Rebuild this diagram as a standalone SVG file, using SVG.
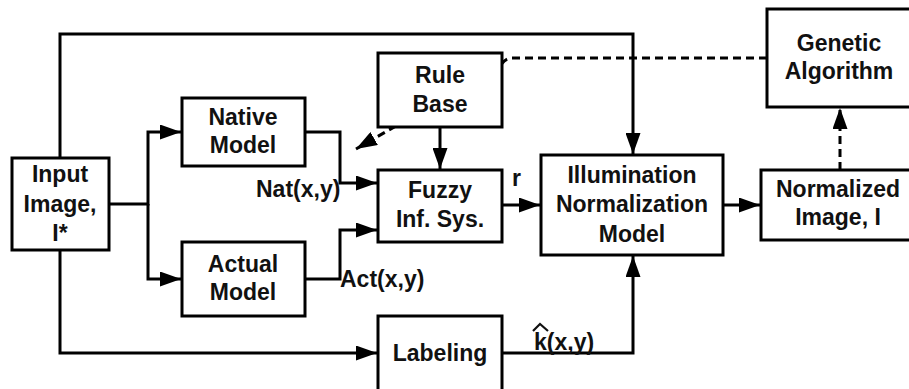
<svg xmlns="http://www.w3.org/2000/svg" width="909" height="389" viewBox="0 0 909 389">
<style>
.box{fill:#fff;stroke:#000;stroke-width:3}
.ln{fill:none;stroke:#000;stroke-width:3}
.dash{fill:none;stroke:#000;stroke-width:3;stroke-dasharray:8,5}
text{font-family:"Liberation Sans",Arial,sans-serif;font-weight:bold;font-size:23px;fill:#111}
.c{text-anchor:middle}
</style>
<defs>
<marker id="ah" markerUnits="userSpaceOnUse" markerWidth="21" markerHeight="15" refX="21" refY="7.5" orient="auto">
<path d="M0,0 L21,7.5 L0,15 z" fill="#000"/>
</marker>
</defs>
<rect width="909" height="389" fill="#fff"/>
<g id="connectors">
<path class="ln" d="M60,158 V34 H633 V154" marker-end="url(#ah)"/>
<path class="ln" d="M109,204 H148 V132 H181" marker-end="url(#ah)"/>
<path class="ln" d="M148,204 V279 H181" marker-end="url(#ah)"/>
<path class="ln" d="M305,132 H340 V183 H377" marker-end="url(#ah)"/>
<path class="ln" d="M305,279 H340 V230 H377" marker-end="url(#ah)"/>
<path class="ln" d="M440,127 V169" marker-end="url(#ah)"/>
<path class="ln" d="M502,205 H540" marker-end="url(#ah)"/>
<path class="ln" d="M723,205 H760" marker-end="url(#ah)"/>
<path class="ln" d="M60,250 V353 H377" marker-end="url(#ah)"/>
<path class="ln" d="M502,353 H633 V256" marker-end="url(#ah)"/>
<path class="dash" d="M840,170 V108" marker-end="url(#ah)"/>
<path class="dash" d="M767,58 H512 C506,58 503,62 500,66 L356,149" marker-end="url(#ah)"/>
<text x="256" y="197">Nat(x,y)</text>
<text x="340" y="287">Act(x,y)</text>
<text x="512" y="186">r</text>
<text x="534" y="350">k(x,y)</text>
<path d="M533,331 L540,324 L548,331" fill="none" stroke="#111" stroke-width="2.2"/>
</g>
<g id="input">
<rect class="box" x="12" y="158" width="97" height="92"/>
<text class="c" x="60" y="182">Input</text>
<text class="c" x="60" y="212">Image,</text>
<text class="c" x="60" y="241">I*</text>
</g>
<g id="native">
<rect class="box" x="182" y="98" width="123" height="68"/>
<text class="c" x="243" y="125">Native</text>
<text class="c" x="243" y="153">Model</text>
</g>
<g id="actual">
<rect class="box" x="182" y="242" width="123" height="74"/>
<text class="c" x="243" y="272">Actual</text>
<text class="c" x="243" y="300">Model</text>
</g>
<g id="rulebase">
<rect class="box" x="378" y="53" width="124" height="74"/>
<text class="c" x="440" y="83">Rule</text>
<text class="c" x="440" y="112">Base</text>
</g>
<g id="fuzzy">
<rect class="box" x="378" y="170" width="124" height="72"/>
<text class="c" x="440" y="198">Fuzzy</text>
<text class="c" x="440" y="227">Inf. Sys.</text>
</g>
<g id="labeling">
<rect class="box" x="378" y="316" width="124" height="76"/>
<text class="c" x="440" y="361">Labeling</text>
</g>
<g id="illumination">
<rect class="box" x="541" y="155" width="182" height="100"/>
<text class="c" x="632" y="183">Illumination</text>
<text class="c" x="632" y="212">Normalization</text>
<text class="c" x="632" y="242">Model</text>
</g>
<g id="normalized">
<rect class="box" x="761" y="170" width="150" height="70"/>
<text class="c" x="838" y="197">Normalized</text>
<text class="c" x="838" y="225">Image, I</text>
</g>
<g id="genetic">
<rect class="box" x="767" y="9" width="144" height="98"/>
<text class="c" x="839" y="51">Genetic</text>
<text class="c" x="839" y="79">Algorithm</text>
</g>
</svg>
